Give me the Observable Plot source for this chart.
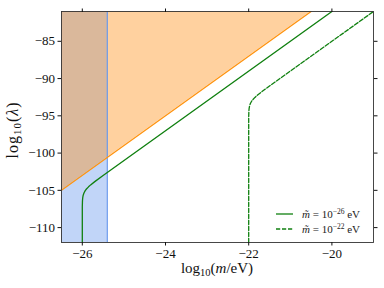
<!DOCTYPE html>
<html><head><meta charset="utf-8">
<script src="https://cdn.jsdelivr.net/npm/d3@7"></script>
<script src="https://cdn.jsdelivr.net/npm/@observablehq/plot@0.6"></script>
<style>body{margin:0;background:#fff} svg{display:block}</style>
</head><body><div id="chart"></div>
<script>
const xDomain = [-26.5, -19];
const yDomain = [-112, -81];
const xTicks = [-26, -24, -22, -20];
const yTicks = [-110, -105, -100, -95, -90, -85];
const blueBand = [{x1: -26.5, x2: -25.4}];
const blueEdge = [-25.4];
const orangeEdge = [[-26.5, -105], [-20.5, -81]];
const solidCurve = [[-26, -112], [-26, -107.2], [-25.997, -106.6], [-25.995, -106.33], [-25.99, -106.02], [-25.98, -105.69], [-25.96, -105.35], [-25.93, -105.04], [-25.9, -104.82], [-25.85, -104.53], [-25.8, -104.27], [-25.7, -103.83], [-25.5, -103.0], [-20, -81]];
const dashedCurve = [[-22, -112], [-22, -95.2], [-21.997, -94.6], [-21.995, -94.33], [-21.99, -94.02], [-21.98, -93.69], [-21.96, -93.35], [-21.93, -93.04], [-21.9, -92.82], [-21.85, -92.53], [-21.8, -92.27], [-21.7, -91.83], [-21.5, -91.0], [-19, -81]];
const legendLabels = ["−26", "−22"];

const font = "'Liberation Serif', 'DejaVu Serif', serif";
const green = "#108010";
const fmt = d => String(d).replace("-", "\u2212");

const chart = Plot.plot({
  width: 384, height: 288,
  marginLeft: 61, marginRight: 11, marginTop: 11, marginBottom: 46,
  x: {domain: xDomain},
  y: {domain: yDomain},
  style: {fontFamily: font, fontSize: "13px", color: "#111", background: "#fff"},
  marks: [
    Plot.rect(blueBand, {x1: "x1", x2: "x2", y1: yDomain[0], y2: yDomain[1], fill: "#6495ed", fillOpacity: 0.4}),
    Plot.areaY(orangeEdge, {x: d => d[0], y1: d => d[1], y2: yDomain[1], fill: "#ff8c0e", fillOpacity: 0.4}),
    Plot.ruleX(blueEdge, {stroke: "#6495ed", strokeWidth: 1.2}),
    Plot.line(orangeEdge, {x: d => d[0], y: d => d[1], stroke: "#ff930f", strokeWidth: 1.3, clip: true}),
    Plot.line(solidCurve, {x: d => d[0], y: d => d[1], stroke: green, strokeWidth: 1.3, clip: true}),
    Plot.line(dashedCurve, {x: d => d[0], y: d => d[1], stroke: green, strokeWidth: 1.3, strokeDasharray: "4.2,1.8", clip: true}),
    Plot.frame({stroke: "#333", strokeWidth: 0.9}),
    Plot.axisX(xTicks, {anchor: "bottom", tickSize: 3.5, tickPadding: 3, label: null, tickFormat: fmt}),
    Plot.axisX(xTicks, {anchor: "top", tickSize: 3.5, label: null, tickFormat: () => ""}),
    Plot.axisY(yTicks, {anchor: "left", tickSize: 3.5, tickPadding: 3, label: null, tickFormat: fmt}),
    Plot.axisY(yTicks, {anchor: "right", tickSize: 3.5, label: null, tickFormat: () => ""})
  ]
});
document.getElementById("chart").appendChild(chart);

const svg = d3.select(chart);
svg.selectAll('g[aria-label$="tick label"]').style("font-size", "13px").style("font-family", font);
svg.selectAll('g[aria-label$="tick label"] text').style("font-size", "13px");
// x-axis label
const xl = svg.append("text").attr("x", 217).attr("y", 273).attr("text-anchor", "middle")
  .style("font-family", font).style("font-size", "15px").attr("fill", "#111");
xl.append("tspan").text("log");
xl.append("tspan").style("font-size", "10.5px").attr("dy", 3).text("10");
xl.append("tspan").attr("dy", -3).text("(");
xl.append("tspan").attr("font-style", "italic").text("m");
xl.append("tspan").text("/eV)");
// y-axis label
const yl = svg.append("text").attr("transform", "translate(18,130) rotate(-90)").attr("text-anchor", "middle")
  .style("font-family", font).style("font-size", "16px").style("letter-spacing", "1px").attr("fill", "#111");
yl.append("tspan").text("log");
yl.append("tspan").style("font-size", "11px").attr("dy", 3).text("10");
yl.append("tspan").attr("dy", -3).text("(");
yl.append("tspan").attr("font-style", "italic").text("λ");
yl.append("tspan").text(")");
// legend
const ly = [214, 229];
legendLabels.forEach((lab, i) => {
  svg.append("line").attr("x1", 276).attr("x2", 293).attr("y1", ly[i]).attr("y2", ly[i])
    .attr("stroke", green).attr("stroke-width", 1.3).attr("stroke-dasharray", i ? "4.2,1.8" : null);
  const t = svg.append("text").attr("x", 302).attr("y", ly[i] + 3.5).attr("text-anchor", "start")
    .style("font-family", font).style("font-size", "11px").attr("fill", "#222");
  t.append("tspan").attr("font-style", "italic").text("m\u0303");
  t.append("tspan").text(" = 10");
  t.append("tspan").style("font-size", "7.5px").attr("dy", -4).text(lab);
  t.append("tspan").attr("dy", 4).text(" eV");
});
</script>
</body></html>
